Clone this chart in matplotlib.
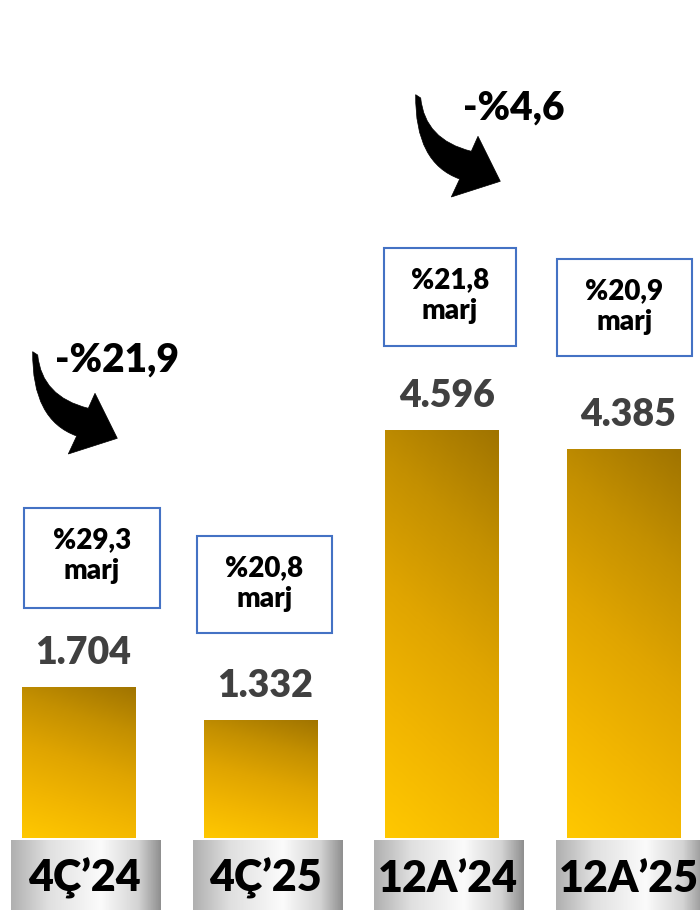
import numpy as np
import matplotlib
matplotlib.use('Agg')
import matplotlib.pyplot as plt
from matplotlib.colors import LinearSegmentedColormap
from matplotlib.patches import Rectangle, PathPatch
from matplotlib.path import Path

categories = ["4Ç’24", "4Ç’25", "12A’24", "12A’25"]
values = [1704, 1332, 4596, 4385]
value_labels = ["1.704", "1.332", "4.596", "4.385"]
margin_pct = ["%29,3", "%20,8", "%21,8", "%20,9"]
margin_word = "marj"
change_labels = ["-%21,9", "-%4,6"]

FONT = "Lato"
WEIGHT = 'heavy'
W, H = 700, 910
fig = plt.figure(figsize=(7, 9.1), dpi=100)
ax = fig.add_axes([0, 0, 1, 1])
ax.axis('off')
XL = (-0.435, 3.418)
YL = (-812, 9448)
px_per_unit = 910 / (YL[1] - YL[0])

x = np.arange(len(categories))
bw = 0.627
bars = ax.bar(x, values, width=bw, color='none', edgecolor='none', zorder=2)

# gold gradient
gold = LinearSegmentedColormap.from_list(
    "gold", ["#FFC800", "#F2B600", "#E0A500", "#C49000", "#A07400"])
ny, nx = 200, 60
yy, xx = np.mgrid[0:1:ny * 1j, 0:1:nx * 1j]  # yy 0 bottom -> 1 top
d = np.clip(0.8 * yy + 0.2 * xx, 0, 1)
grad = gold(d)
for b in bars:
    x0, w, h = b.get_x(), b.get_width(), b.get_height()
    im = ax.imshow(grad, extent=(x0, x0 + w, 0, h), origin='lower',
                   aspect='auto', zorder=2, interpolation='bilinear')
    im.set_clip_path(b)

# gray category boxes
gray = LinearSegmentedColormap.from_list(
    "gray", [(0, "#b0b0b0"), (0.25, "#e0e0e0"), (0.6, "#fbfbfb"), (0.85, "#d4d4d4"), (1, "#909090")])
gx = np.linspace(0, 1, 200)[None, :].repeat(10, axis=0)
box_w = 0.825
box_off = 0.038
box_top = -3 / px_per_unit
for i, cat in enumerate(categories):
    cx = x[i] + box_off
    ax.imshow(gray(gx), extent=(cx - box_w / 2, cx + box_w / 2, YL[0], box_top),
              origin='lower', aspect='auto', zorder=1, interpolation='bilinear')
    ax.text(cx - 0.01, -54 / px_per_unit, cat, ha='center', va='baseline',
            fontsize=31, fontweight=WEIGHT, family=FONT, color='black', zorder=3)

# value labels
for i, (v, lab) in enumerate(zip(values, value_labels)):
    ax.text(x[i] + 0.025, v + 23 / px_per_unit, lab, ha='center', va='baseline',
            fontsize=27, fontweight=WEIGHT, family=FONT, color='#404040', zorder=3)

ax.set_xlim(*XL)
ax.set_ylim(*YL)

# overlay in pixel coordinates for annotations
ov = fig.add_axes([0, 0, 1, 1], zorder=5)
ov.set_xlim(0, W)
ov.set_ylim(H, 0)
ov.axis('off')
ov.patch.set_alpha(0)

boxes = [(24, 508, 136, 100), (197, 536, 135, 97), (384, 248, 132, 98), (557, 259, 135, 97)]
for (bx, by, bwid, bh), pct in zip(boxes, margin_pct):
    ov.add_patch(Rectangle((bx, by), bwid, bh, fc='white', ec='#4472C4', lw=1.5))
    ov.text(bx + bwid / 2, by + 40, pct, ha='center', va='baseline', fontsize=20,
            fontweight=WEIGHT, family=FONT, color='black')
    ov.text(bx + bwid / 2, by + 71, margin_word, ha='center', va='baseline', fontsize=20,
            fontweight=WEIGHT, family=FONT, color='black')

# curved arrows
base = [(32.7, 351.7), (37.7, 355), (41.7, 396.7), (88.3, 408.3), (95, 393.3),
        (117.3, 438.3), (68.3, 454), (76.7, 436), (31.7, 420), (32.7, 351.7)]
codes = [Path.MOVETO, Path.LINETO, Path.CURVE3, Path.CURVE3, Path.LINETO,
         Path.LINETO, Path.LINETO, Path.LINETO, Path.CURVE3, Path.CURVE3]
for dx, dy in [(0, 0), (383, -257)]:
    verts = [(px + dx, py + dy) for px, py in base]
    ov.add_patch(PathPatch(Path(verts, codes), fc='black', ec='black', lw=0.5))

ov.text(117, 372, change_labels[0], ha='center', va='baseline', fontsize=28,
        fontweight=WEIGHT, family=FONT, color='black')
ov.text(514, 120, change_labels[1], ha='center', va='baseline', fontsize=28,
        fontweight=WEIGHT, family=FONT, color='black')

fig.savefig("out.png", dpi=100)
